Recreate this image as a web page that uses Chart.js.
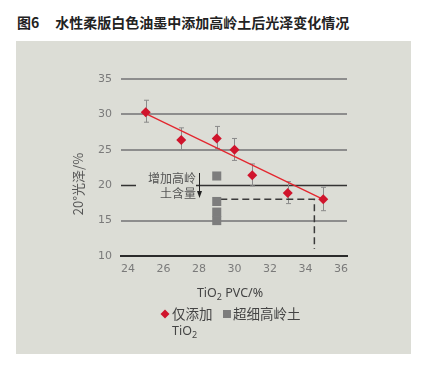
<!DOCTYPE html>
<html><head><meta charset="utf-8">
<script src="https://cdn.jsdelivr.net/npm/chart.js@4"></script>
<style>
html,body{margin:0;padding:0;background:#fff;}
#wrap{position:relative;width:423px;height:367px;overflow:hidden;}
#title{position:absolute;left:17px;top:12px;font:bold 14px "Noto Sans CJK SC";color:#222;line-height:20px;white-space:nowrap;}
#panel{position:absolute;left:16px;top:41px;width:395px;height:313px;background:#dcddd6;}
canvas{position:absolute;left:0;top:0;}
</style></head><body>
<div id="wrap"><div id="title">图6<span style="margin-left:16px">水性柔版白色油墨中添加高岭土后光泽变化情况</span></div><div id="panel"></div><canvas id="c" width="423" height="367"></canvas></div>
<script>
const xTicks = [24,26,28,30,32,34,36];
const yTicks = [10,15,20,25,30,35];
const tio2X = [25,27,29,30,31,33,35];
const tio2Y = [30.3,26.4,26.6,25.0,21.4,18.9,18.0];
const tio2ErrHi = [32.0,28.1,28.3,26.6,23.0,20.5,19.7];
const tio2ErrLo = [28.9,25.0,25.2,23.5,19.9,17.4,16.4];
const kaolinX = [29,29,29,29];
const kaolinY = [21.3,17.7,16.2,15.0];
const trendX = [25,35];
const trendY = [30.1,18.0];
const guideX = [29.2,34.5,34.5];
const guideY = [18.0,18.0,11.0];

const pts = (xs,ys)=>xs.map((x,i)=>({x:x,y:ys[i]}));
const CJK = '"Noto Sans CJK SC"';

const deco = {
  id:'deco',
  beforeDatasetsDraw(chart){
    const ctx = chart.ctx, xs = chart.scales.x, ys = chart.scales.y, ca = chart.chartArea;
    ctx.save();
    // dark line at 20 with a gap for annotation
    const y20 = Math.round(ys.getPixelForValue(20))+0.5;
    ctx.strokeStyle = '#333'; ctx.lineWidth = 1.3;
    ctx.beginPath();
    ctx.moveTo(ca.left, y20); ctx.lineTo(ca.left+15, y20);
    ctx.moveTo(ca.left+75, y20); ctx.lineTo(ca.right, y20);
    ctx.stroke();
    // error bars
    ctx.strokeStyle = '#8a8a8a'; ctx.lineWidth = 1;
    tio2X.forEach((x,i)=>{
      const px = Math.round(xs.getPixelForValue(x))+0.5;
      const ph = ys.getPixelForValue(tio2ErrHi[i]);
      const pl = ys.getPixelForValue(tio2ErrLo[i]);
      ctx.beginPath();
      ctx.moveTo(px,ph); ctx.lineTo(px,pl);
      ctx.moveTo(px-2.5,ph); ctx.lineTo(px+2.5,ph);
      ctx.moveTo(px-2.5,pl); ctx.lineTo(px+2.5,pl);
      ctx.stroke();
    });
    ctx.restore();
  },
  afterDraw(chart){
    const ctx = chart.ctx, ca = chart.chartArea;
    ctx.save();
    // y title
    ctx.fillStyle = '#555';
    ctx.font = '13px ' + CJK;
    ctx.textAlign = 'center'; ctx.textBaseline = 'middle';
    ctx.translate(78.5, 184); ctx.rotate(-Math.PI/2);
    ctx.fillText('20°光泽/%', 0, 0);
    ctx.restore();

    ctx.save();
    // x title with subscript
    ctx.fillStyle = '#444';
    ctx.textBaseline = 'alphabetic';
    const f1 = '12.5px "Noto Sans"', f2 = '9px "Noto Sans"';
    ctx.font = f1; const w1 = ctx.measureText('TiO').width, w3 = ctx.measureText(' PVC/%').width;
    ctx.font = f2; const w2 = ctx.measureText('2').width;
    let x0 = 230 - (w1+w2+w3)/2, by = 297;
    ctx.font = f1; ctx.textAlign='left'; ctx.fillText('TiO', x0, by);
    ctx.font = f2; ctx.fillText('2', x0+w1, by+3);
    ctx.font = f1; ctx.fillText(' PVC/%', x0+w1+w2, by);

    // legend
    const ly = 314;
    ctx.fillStyle = '#d0142c';
    ctx.beginPath(); ctx.moveTo(165, ly-4.5); ctx.lineTo(169.5, ly); ctx.lineTo(165, ly+4.5); ctx.lineTo(160.5, ly); ctx.closePath(); ctx.fill();
    ctx.fillStyle = '#444'; ctx.font = '13.5px ' + CJK; ctx.textBaseline = 'middle';
    ctx.fillText('仅添加', 172, ly);
    ctx.fillStyle = '#7d7d7d'; ctx.fillRect(223, ly-4, 8, 8);
    ctx.fillStyle = '#444'; ctx.fillText('超细高岭土', 233, ly);
    ctx.textBaseline = 'alphabetic';
    ctx.font = f1; const t1 = ctx.measureText('TiO').width;
    ctx.fillText('TiO', 172, 335);
    ctx.font = f2; ctx.fillText('2', 172+t1, 338);

    // annotation
    ctx.fillStyle = '#555'; ctx.font = '12px ' + CJK; ctx.textAlign = 'right'; ctx.textBaseline = 'middle';
    ctx.fillText('增加高岭', 196, 178);
    ctx.fillText('土含量', 196, 193);
    ctx.strokeStyle = '#222'; ctx.lineWidth = 1;
    ctx.beginPath(); ctx.moveTo(199.5, 173); ctx.lineTo(199.5, 192); ctx.stroke();
    ctx.fillStyle = '#222';
    ctx.beginPath(); ctx.moveTo(197, 191); ctx.lineTo(202, 191); ctx.lineTo(199.5, 198); ctx.closePath(); ctx.fill();
    ctx.restore();
  }
};

const tickFont = {family:'"DejaVu Sans"', size:11};
new Chart(document.getElementById('c'), {
  type:'scatter',
  data:{datasets:[
    {label:'guide', type:'line', data:pts(guideX,guideY), borderColor:'#3a3a3a', borderWidth:1.5, borderDash:[7,4], pointRadius:0, fill:false, order:3},
    {label:'超细高岭土', data:pts(kaolinX,kaolinY), pointStyle:'rect', pointRadius:6.4, backgroundColor:'#7d7d7d', borderWidth:0, order:2},
    {label:'trend', type:'line', data:pts(trendX,trendY), borderColor:'#e3262e', borderWidth:1.3, pointRadius:0, fill:false, order:1},
    {label:'仅添加TiO2', data:pts(tio2X,tio2Y), pointStyle:'rectRot', pointRadius:5, backgroundColor:'#d0142c', borderWidth:0, order:0}
  ]},
  options:{
    responsive:false, animation:false,
    layout:{padding:{left:0, top:79, right:76, bottom:81}},
    plugins:{legend:{display:false}, tooltip:{enabled:false}},
    scales:{
      x:{type:'linear', min:23.606, max:36.338,
        afterBuildTicks:s=>{s.ticks = xTicks.map(v=>({value:v}));},
        afterFit:s=>{s.height = 30;},
        grid:{display:false, drawTicks:false},
        border:{display:true, color:'#2b2b2b', width:2},
        ticks:{padding:7, color:'#7a7a7a', font:tickFont, autoSkip:false, maxRotation:0}},
      y:{min:10, max:35,
        afterBuildTicks:s=>{s.ticks = yTicks.map(v=>({value:v}));},
        afterFit:s=>{s.width = 121;},
        grid:{drawTicks:false, lineWidth:2, color:c=>(c.tick && (c.tick.value===20 || c.tick.value===10)) ? 'rgba(0,0,0,0)' : '#8d8d8d'},
        border:{display:false},
        ticks:{padding:9, color:'#7a7a7a', font:tickFont}}
    }
  },
  plugins:[deco]
});
</script>
</body></html>
